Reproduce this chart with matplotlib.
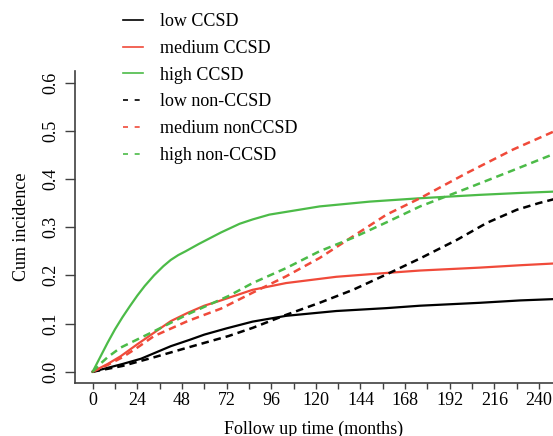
import matplotlib
matplotlib.use('Agg')
import matplotlib.pyplot as plt
from matplotlib.lines import Line2D

plt.rcParams['font.family'] = ['Liberation Serif', 'DejaVu Serif']

# follow up time (months) and cumulative incidence
t_low = [0, 8, 16, 26, 34, 42, 52, 60, 72, 86, 104, 131, 158, 176, 208, 230, 250]
low_ccsd = [0, 0.008, 0.016, 0.027, 0.040, 0.053, 0.066, 0.077, 0.090, 0.104, 0.116,
            0.126, 0.132, 0.137, 0.143, 0.148, 0.151]

t_med = [0, 8, 15, 24, 33, 42, 51, 60, 69, 86, 104, 131, 158, 176, 208, 230, 250]
med_ccsd = [0, 0.016, 0.032, 0.057, 0.081, 0.105, 0.122, 0.137, 0.148, 0.170, 0.184,
            0.197, 0.205, 0.210, 0.216, 0.221, 0.225]

t_high = [0, 4, 8, 12, 16, 20, 24, 28, 33, 38, 42, 46, 50, 57, 69, 79, 86, 95, 122, 149,
          176, 208, 230, 250]
high_ccsd = [0, 0.030, 0.060, 0.088, 0.113, 0.136, 0.158, 0.178, 0.200, 0.219, 0.232,
             0.242, 0.250, 0.265, 0.289, 0.307, 0.316, 0.326, 0.343, 0.353, 0.360, 0.367,
             0.371, 0.374]

t_low_non = [0, 16, 33, 51, 73, 86, 104, 122, 140, 158, 176, 196, 212, 228, 240, 250]
low_non = [0, 0.012, 0.030, 0.050, 0.074, 0.091, 0.118, 0.143, 0.170, 0.202, 0.235,
           0.274, 0.309, 0.336, 0.350, 0.360]

t_med_non = [0, 8, 16, 24, 33, 51, 69, 86, 104, 122, 140, 158, 176, 201, 226, 250]
med_non = [0, 0.014, 0.030, 0.050, 0.074, 0.105, 0.131, 0.164, 0.198, 0.236, 0.281,
           0.326, 0.360, 0.412, 0.461, 0.502]

t_high_non = [0, 4, 8, 15, 24, 33, 51, 73, 86, 104, 122, 140, 158, 176, 201, 226, 250]
high_non = [0, 0.016, 0.030, 0.050, 0.067, 0.084, 0.119, 0.157, 0.184, 0.215, 0.250,
            0.278, 0.310, 0.343, 0.380, 0.418, 0.455]

labels = ['low CCSD', 'medium CCSD', 'high CCSD', 'low non-CCSD', 'medium nonCCSD', 'high non-CCSD']
red = '#f04a3a'
green = '#4cbb48'

fig = plt.figure(figsize=(5.53, 4.36), dpi=100)
ax = fig.add_axes([75/553, 52.7/436, 478/553, 312.3/436])

ax.plot(t_low, low_ccsd, color='black', lw=1.6)
ax.plot(t_med, med_ccsd, color=red, lw=1.6)
ax.plot(t_high, high_ccsd, color=green, lw=1.6)
ax.plot(t_low_non, low_non, color='black', lw=1.8, dashes=(3, 2))
ax.plot(t_med_non, med_non, color=red, lw=1.8, dashes=(3, 2))
ax.plot(t_high_non, high_non, color=green, lw=1.8, dashes=(3, 2))

ax.set_xlim(-9.5, 247.5)
ax.set_ylim(-0.024, 0.624)
ax.set_xticks(range(0, 241, 24))
ax.set_xticks(range(12, 241, 24), minor=True)
ax.set_yticks([0, 0.1, 0.2, 0.3, 0.4, 0.5, 0.6])
ax.set_yticklabels(['0.0', '0.1', '0.2', '0.3', '0.4', '0.5', '0.6'], rotation=90, va='center')
ax.tick_params(axis='x', which='both', length=4.5, width=1, color='#404040', labelsize=13, pad=2)
ax.tick_params(axis='y', length=7, width=1, color='#404040', labelsize=13, pad=4)
for s in ['top', 'right']:
    ax.spines[s].set_visible(False)
for s in ['left', 'bottom']:
    ax.spines[s].set_color('#404040')
    ax.spines[s].set_linewidth(1.2)

ax.set_xlabel('Follow up time (months)', fontsize=13, labelpad=8)
ax.set_ylabel('Cum incidence', fontsize=13, labelpad=9)

handles = [Line2D([], [], color='black', lw=1.2),
           Line2D([], [], color=red, lw=1.2),
           Line2D([], [], color=green, lw=1.2),
           Line2D([], [], color='black', lw=1.2, dashes=(3, 4)),
           Line2D([], [], color=red, lw=1.2, dashes=(3, 4)),
           Line2D([], [], color=green, lw=1.2, dashes=(3, 4))]
fig.legend(handles, labels, loc='upper left', bbox_to_anchor=(116/553, 1 - 6/436),
           frameon=False, fontsize=13, handlelength=1.1, handletextpad=0.95,
           labelspacing=0.54, borderaxespad=0)

fig.savefig('out.png', dpi=100)
